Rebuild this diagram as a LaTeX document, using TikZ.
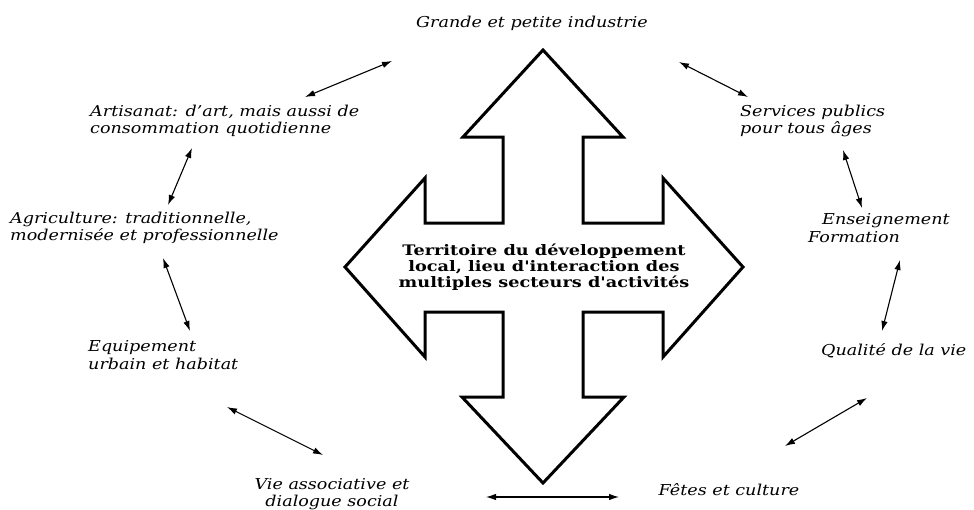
\documentclass[tikz,border=0pt]{standalone}
\usepackage{fontspec}
\setmainfont{DejaVu Serif}
\newfontfamily\sectorfont{DejaVu Serif}[FakeStretch=1.17]
\newfontfamily\hubfont{DejaVu Serif}[FakeStretch=1.22]
\usetikzlibrary{arrows.meta}

\tikzset{
  sector/.style={font=\sectorfont\fontsize{15}{17.5}\selectfont\itshape, inner sep=0pt},
  hubtext/.style={font=\hubfont\fontsize{14.5}{16}\selectfont\bfseries, align=center, inner sep=0pt},
  crossline/.style={line width=3pt, line join=miter, draw=black, fill=white},
  link/.style={line width=1.1pt, {Latex[length=10pt,width=6.5pt]}-{Latex[length=10pt,width=6.5pt]}}
}

\begin{document}
\begin{tikzpicture}[x=1pt, y=-1pt]
  \useasboundingbox (0,0) rectangle (974,509);

  % four-way arrow in the middle
  \draw[crossline]
    (543,50) -- (623,137) -- (583,137) -- (583,223) -- (663,223) -- (663,178)
    -- (743,267) -- (663,357) -- (663,312) -- (583,312) -- (583,397) -- (624,397)
    -- (543,483) -- (462,397) -- (503,397) -- (503,312) -- (425,312) -- (425,357)
    -- (345,267) -- (425,178) -- (425,223) -- (503,223) -- (503,137) -- (463,137)
    -- cycle;

  \node[hubtext] (hub) at (544,267)
    {Territoire du développement\\local, lieu d'interaction des\\multiples secteurs d'activités};

  % sectors around the territory
  \node[sector] (industrie) at (532,23) {Grande et petite industrie};
  \node[sector, anchor=west, align=left] (artisanat) at (90,121)
    {Artisanat: d’art, mais aussi de\\consommation quotidienne};
  \node[sector, anchor=west, align=left] (agriculture) at (10,228)
    {Agriculture: traditionnelle,\\modernisée et professionnelle};
  \node[sector, anchor=west, align=left] (equipement) at (88,355)
    {Equipement\\urbain et habitat};
  \node[sector, align=center] (vie) at (332,494)
    {Vie associative et\\dialogue social};
  \node[sector] (fetes) at (729,490) {Fêtes et culture};
  \node[sector, anchor=west] (qualite) at (821,351) {Qualité de la vie};
  \node[sector, anchor=west, align=left] (enseignement) at (808,228)
    {\hspace{14pt}Enseignement\\Formation};
  \node[sector, anchor=west, align=left] (services) at (740,121)
    {Services publics\\pour tous âges};

  % ends of the interaction links
  \coordinate (a1) at (305,97);  \coordinate (a2) at (392,61);
  \coordinate (b1) at (679,62);  \coordinate (b2) at (748,97);
  \coordinate (c1) at (192,148); \coordinate (c2) at (168,205);
  \coordinate (d1) at (163,258); \coordinate (d2) at (190,331);
  \coordinate (e1) at (227,407); \coordinate (e2) at (323,455);
  \coordinate (f1) at (486,497); \coordinate (f2) at (619,497);
  \coordinate (g1) at (785,446); \coordinate (g2) at (867,398);
  \coordinate (h1) at (882,331); \coordinate (h2) at (900,260);
  \coordinate (i1) at (862,208); \coordinate (i2) at (843,150);

  \draw[link] (a1) -- (a2);
  \draw[link] (b1) -- (b2);
  \draw[link] (c1) -- (c2);
  \draw[link] (d1) -- (d2);
  \draw[link] (e1) -- (e2);
  \draw[link] (f1) -- (f2);
  \draw[link] (g1) -- (g2);
  \draw[link] (h1) -- (h2);
  \draw[link] (i1) -- (i2);
\end{tikzpicture}
\end{document}
